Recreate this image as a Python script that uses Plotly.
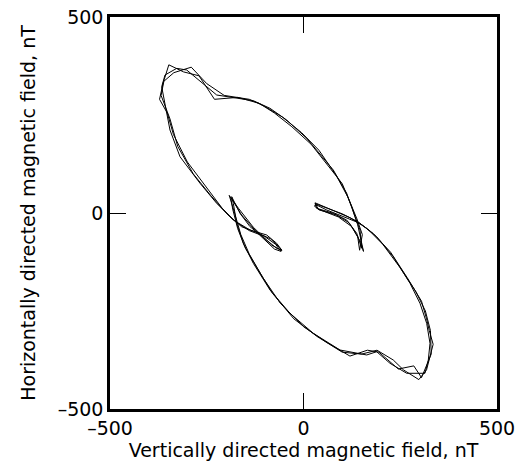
import plotly.graph_objects as go

# Cycle 1 (main pass) (nT)
x_vert_1 = [-327.6, -357.9, -366.4, -357.9, -345.0, -319.1, -267.4, -224.3, -181.4, -138.2, -95.1, -69.3, -56.3,
            -69.3, -95.0, -138.2, -164.1, -185.5,
            -181.4, -172.6, -155.6, -129.7, -86.6, -34.9, 25.3, 94.3, 163.3, 189.1, 223.5, 266.7, 313.9,
            322.5, 326.9, 318.3, 301.0, 275.2, 232.0, 189.1, 146.0, 94.3, 59.9, 34.1, 29.7,
            34.1, 77.0, 111.6, 137.5, 150.4,
            146.0, 133.1, 111.6, 77.0, 51.2, 8.3, -43.4, -86.6, -129.7, -224.3, -301.8, -327.6]
y_horiz_1 = [369.0, 352.0, 322.0, 279.8, 211.7, 143.6, 75.8, 24.7, -17.9, -43.4, -56.1, -77.3, -94.4,
             -90.0, -68.9, -34.9, -0.8, 41.6,
             24.7, -26.3, -77.3, -128.3, -196.4, -255.9, -306.9, -349.5, -362.2, -353.8, -383.4, -408.9, -408.9,
             -375.0, -332.4, -281.4, -230.4, -179.3, -111.5, -60.5, -26.3, -5.1, 7.7, 20.4, 24.7,
             12.0, -0.8, -17.9, -51.8, -90.1,
             -43.4, -9.4, 50.3, 109.7, 139.5, 190.6, 237.2, 267.1, 286.5, 301.0, 364.8, 369.0]

# Cycle 2
x_vert_2 = [-290, -335, -362, -372, -352, -336, -300, -255, -210, -176, -140, -100, -72, -58,
            -75, -120, -160, -188,
            -183, -170, -150, -120, -80, -25, 35, 100, 150, 190, 232, 258, 298,
            318, 335, 325, 318, 305, 268, 225, 180, 140, 100, 62, 35, 28,
            40, 85, 118, 140, 145,
            152, 138, 115, 85, 40, -5, -55, -100, -140, -205, -250, -290]
y_horiz_2 = [372, 358, 335, 290, 255, 200, 130, 70, 12, -22, -45, -60, -80, -98,
             -92, -50, -5, 40,
             10, -40, -90, -140, -205, -270, -315, -355, -360, -350, -375, -400, -425,
             -400, -335, -300, -270, -225, -165, -100, -52, -22, -2, 12, 22, 18,
             8, -5, -25, -60, -95,
             -55, -15, 40, 95, 160, 205, 245, 272, 290, 300, 330, 372]

# Cycle 3
x_vert_3 = [-310, -348, -360, -368, -345, -325, -285, -240, -195, -160, -120, -85, -62, -56,
            -82, -130, -168, -192,
            -178, -162, -140, -105, -60, 0, 60, 120, 165, 195, 245, 285,
            305, 330, 328, 315, 290, 250, 205, 165, 120, 80, 45, 30,
            38, 90, 125, 148, 155,
            140, 125, 100, 60, 20, -30, -75, -115, -170, -230, -270, -310]
y_horiz_3 = [360, 378, 340, 300, 240, 170, 100, 45, -5, -35, -50, -66, -88, -96,
             -82, -36, 12, 45,
             0, -55, -105, -165, -230, -290, -330, -365, -350, -355, -398, -390,
             -420, -360, -300, -250, -200, -140, -80, -40, -12, 5, 18, 26,
             10, -10, -35, -75, -98,
             -30, 15, 75, 125, 175, 220, 255, 280, 295, 290, 350, 360]

tick_vals = [-500, 0, 500]
tick_text = ["\u2013500", "0", "500"]

FONT = "DejaVu Sans, sans-serif"
FS = 19

fig = go.Figure()
for xs, ys in [(x_vert_1, y_horiz_1), (x_vert_2, y_horiz_2), (x_vert_3, y_horiz_3)]:
    fig.add_trace(go.Scatter(x=xs, y=ys, mode="lines",
                             line=dict(color="black", width=1), showlegend=False,
                             hoverinfo="skip"))

axis_common = dict(
    range=[-500, 500], tickvals=tick_vals, ticktext=tick_text,
    showgrid=False, zeroline=False, automargin=False,
    showline=True, linecolor="black", linewidth=2.5, mirror="ticks",
    ticks="inside", ticklen=16, tickwidth=1, tickcolor="black",
    tickfont=dict(family=FONT, size=FS, color="black"),
)

fig.update_layout(
    width=520, height=471,
    margin=dict(l=110, r=23, t=17, b=62),
    paper_bgcolor="white", plot_bgcolor="white",
    font=dict(family=FONT, size=FS, color="black"),
    xaxis=dict(**axis_common,
               title=dict(text="Vertically directed magnetic field, nT",
                          font=dict(family=FONT, size=FS, color="black"), standoff=3)),
    yaxis=dict(**axis_common,
               title=dict(text="Horizontally directed magnetic field, nT",
                          font=dict(family=FONT, size=FS, color="black"), standoff=18)),
)

fig.write_html("out.html", config={"displayModeBar": False},
               post_script="document.body.style.margin='0px';document.body.style.overflow='hidden';")
